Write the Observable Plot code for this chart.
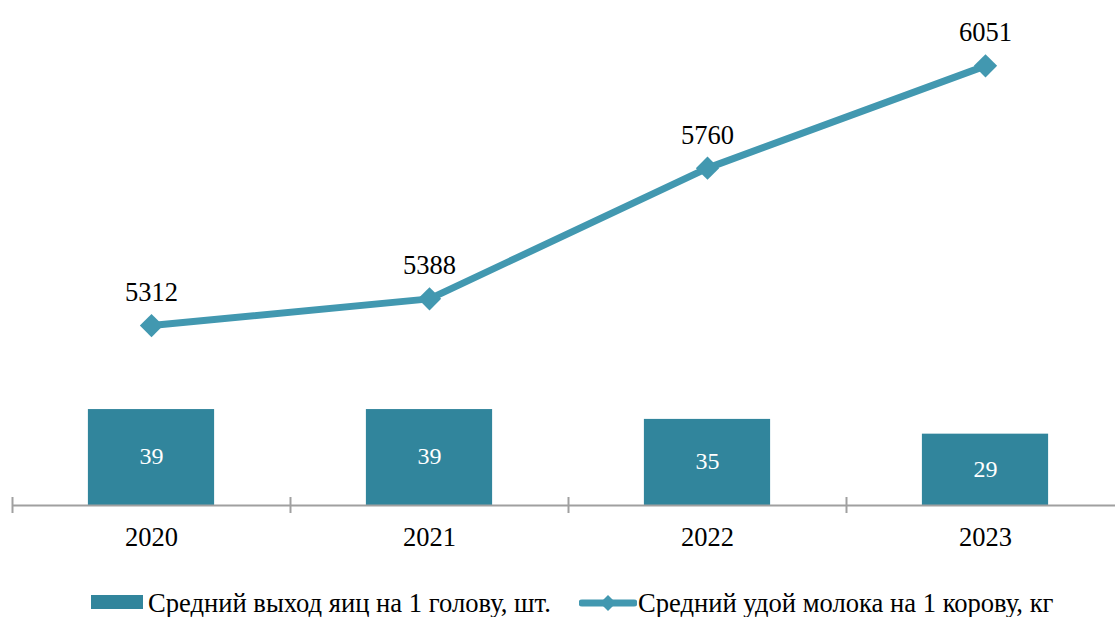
<!DOCTYPE html>
<html>
<head>
<meta charset="utf-8">
<script src="https://cdn.jsdelivr.net/npm/d3@7"></script>
<script src="https://cdn.jsdelivr.net/npm/@observablehq/plot@0.6"></script>
<style>
  html, body { margin: 0; padding: 0; background: #fff; }
  #wrap { position: relative; width: 1115px; height: 617px; overflow: hidden; font-family: "Liberation Serif", "Times New Roman", serif; }
  .leg { position: absolute; font-size: 26.6px; line-height: 26px; color: #000; white-space: nowrap; }
</style>
</head>
<body>
<div id="wrap"></div>
<script>
const years = ["2020", "2021", "2022", "2023"];
const eggs = [39, 39, 35, 29];          // Средний выход яиц на 1 голову, шт.
const milk = [5312, 5388, 5760, 6051];  // Средний удой молока на 1 корову, кг
const milkAxis = [4800, 6200];          // primary axis range (hidden)
const eggAxis = [0, 200];               // secondary axis range (hidden)
const seriesNames = ["Средний выход яиц на 1 голову, шт.", "Средний удой молока на 1 корову, кг"];

const barColor = "#31859c";
const lineColor = "#4298b0";
const axisColor = "#a0a0a0";

// map secondary-axis values onto the primary y scale
const eggToY = v => milkAxis[0] + (v - eggAxis[0]) * (milkAxis[1] - milkAxis[0]) / (eggAxis[1] - eggAxis[0]);

const data = years.map((y, i) => ({i, year: y, eggs: eggs[i], milk: milk[i], eggY: eggToY(eggs[i])}));
const halfBar = 0.227;

const chart = Plot.plot({
  width: 1115,
  height: 565,
  marginLeft: 12,
  marginRight: 0,
  marginTop: 13,
  marginBottom: 60,
  style: {fontFamily: "'Liberation Serif', 'Times New Roman', serif", background: "#fff"},
  x: {type: "linear", domain: [0, years.length], range: [12, 1124], axis: null},
  y: {domain: milkAxis, axis: null},
  marks: [
    Plot.rectY(data, {x1: d => d.i + 0.5 - halfBar, x2: d => d.i + 0.5 + halfBar, y1: milkAxis[0], y2: "eggY", fill: barColor}),
    Plot.ruleY([milkAxis[0]], {stroke: axisColor, strokeWidth: 2}),
    Plot.axisX({ticks: d3.range(years.length + 1), tickFormat: () => "", tickSize: 16, dy: -8, stroke: axisColor, strokeWidth: 2}),
    Plot.axisX({ticks: years.map((_, i) => i + 0.5), tickFormat: d => years[Math.floor(d)], tickSize: 0, tickPadding: 22, fontSize: 26.5, fill: "#000"}),
    Plot.text(data, {x: d => d.i + 0.5, y: d => (milkAxis[0] + d.eggY) / 2, text: d => String(d.eggs), fill: "#fff", fontSize: 24, dy: -1}),
    Plot.line(data, {x: d => d.i + 0.5, y: "milk", stroke: lineColor, strokeWidth: 7}),
    Plot.dot(data, {x: d => d.i + 0.5, y: "milk", symbol: "diamond2", r: 10.5, fill: lineColor, stroke: "none"}),
    Plot.text(data, {x: d => d.i + 0.5, y: "milk", text: d => String(d.milk), dy: -33, fontSize: 26.5, fill: "#000"})
  ]
});

const wrap = document.getElementById("wrap");
wrap.appendChild(chart);

// legend
const leg = document.createElement("div");
leg.innerHTML = `
  <svg style="position:absolute;left:91px;top:595px" width="52" height="14"><rect x="0" y="0" width="52" height="14" fill="${barColor}"/></svg>
  <span class="leg" style="left:148px;top:590px">${seriesNames[0]}</span>
  <svg style="position:absolute;left:579px;top:591px" width="58" height="24">
    <line x1="3" y1="12" x2="55" y2="12" stroke="${lineColor}" stroke-width="7" stroke-linecap="round"/>
    <path d="M29,4 L37,12 L29,20 L21,12 Z" fill="${lineColor}"/>
  </svg>
  <span class="leg" style="left:638px;top:590px">${seriesNames[1]}</span>`;
wrap.appendChild(leg);
</script>
</body>
</html>
